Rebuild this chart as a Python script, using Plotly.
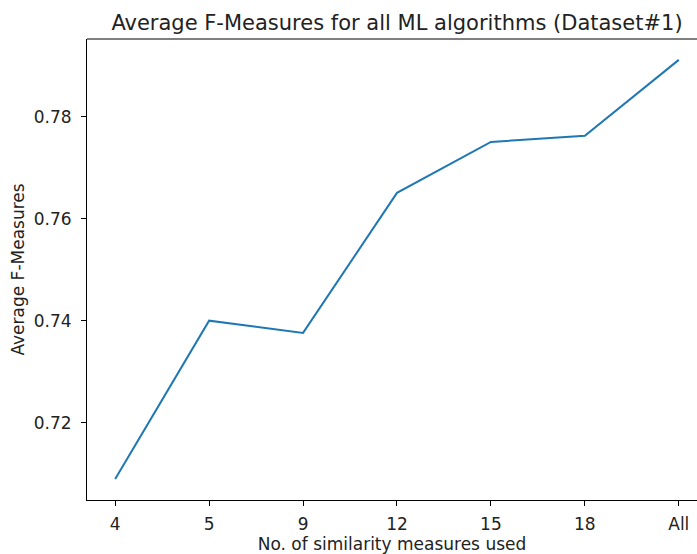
import plotly.graph_objects as go

# Average F-measure per number of similarity measures
measure_counts = ["4", "5", "9", "12", "15", "18", "All"]
avg_f_measures = [0.7089, 0.7400, 0.7376, 0.7651, 0.7751, 0.7763, 0.7912]
y_ticks = [0.72, 0.74, 0.76, 0.78]

font_family = "DejaVu Sans"
text_color = "#222222"

fig = go.Figure()
fig.add_trace(
    go.Scatter(
        x=measure_counts,
        y=avg_f_measures,
        mode="lines",
        line=dict(color="#1f77b4", width=2),
        showlegend=False,
    )
)

axis_common = dict(
    showline=True,
    linecolor="black",
    linewidth=1,
    ticks="outside",
    ticklen=5,
    tickwidth=1,
    tickcolor="black",
    showgrid=False,
    zeroline=False,
    tickfont=dict(size=17, color=text_color),
)

fig.update_layout(
    width=697,
    height=554,
    margin=dict(l=87, r=0, t=39, b=54),
    paper_bgcolor="white",
    plot_bgcolor="white",
    font=dict(family=font_family, color=text_color, size=17),
    title=dict(
        text="Average F-Measures for all ML algorithms (Dataset#1)",
        font=dict(size=21, family=font_family, color=text_color),
        x=(397 - 87) / 610,
        xanchor="center",
        xref="paper",
        yref="paper",
        y=1,
        yanchor="bottom",
        pad=dict(b=9),
    ),
    xaxis=dict(
        type="category",
        range=[-0.3, 6.194],
        ticklabelstandoff=4,
        title=dict(text="No. of similarity measures used", font=dict(size=17), standoff=4),
        **axis_common,
    ),
    yaxis=dict(
        range=[0.7048, 0.7953],
        tickvals=y_ticks,
        tickformat=".2f",
        ticklabelstandoff=6,
        title=dict(text="Average F-Measures", font=dict(size=17), standoff=4),
        **axis_common,
    ),
    shapes=[
        dict(
            type="line",
            xref="paper",
            yref="paper",
            x0=0,
            x1=1,
            y0=1,
            y1=1,
            line=dict(color="black", width=1),
        )
    ],
)

fig.write_html("out.html")
